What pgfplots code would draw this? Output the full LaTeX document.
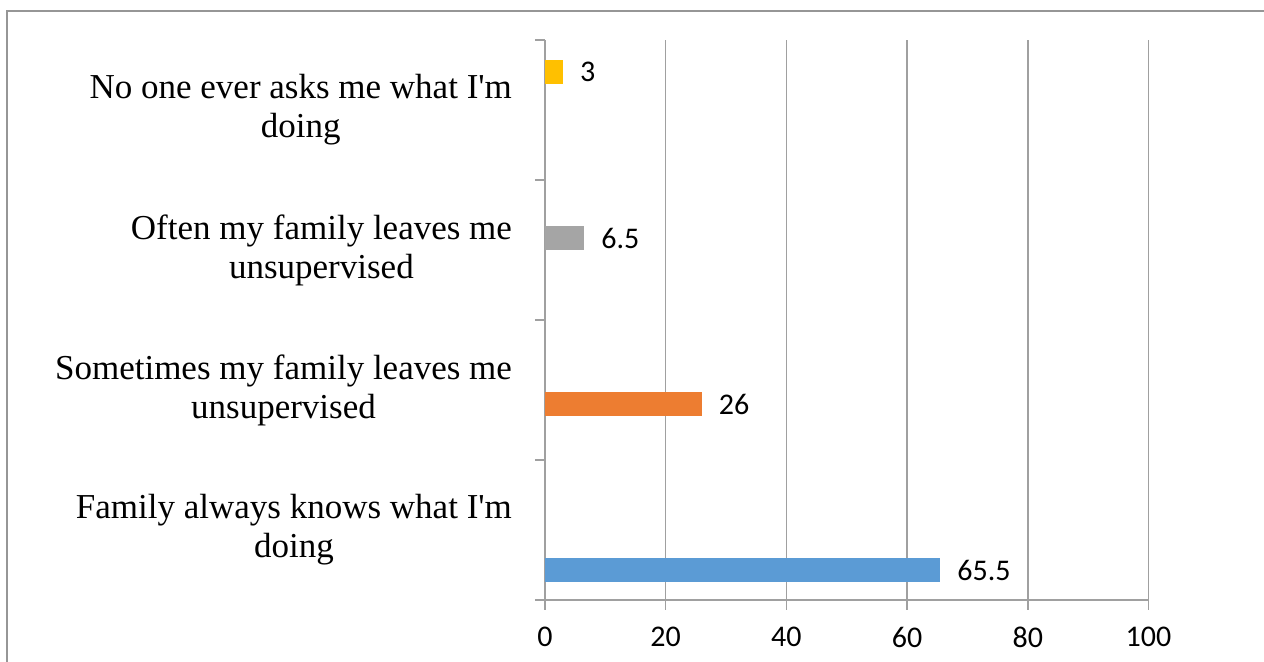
\documentclass[border=0pt]{standalone}
\usepackage{pgfplots}
\pgfplotsset{compat=1.18}
\usepackage{fontspec}
\setmainfont{Liberation Serif}[Ligatures=TeXOff]
\newfontfamily\calibri{Carlito}
\definecolor{sblue}{RGB}{91,155,213}
\definecolor{sorange}{RGB}{237,125,49}
\definecolor{sgray}{RGB}{165,165,165}
\definecolor{syellow}{RGB}{255,192,0}
\definecolor{framegray}{RGB}{150,150,150}
\definecolor{gridgray}{RGB}{160,160,160}
\begin{document}
\begin{tikzpicture}
\useasboundingbox (0,0) rectangle (632pt,331pt);
\draw[color=framegray, line width=0.8pt] (3.5pt,0) -- (3.5pt,325.5pt) -- (632pt,325.5pt);
\begin{axis}[
  at={(272.5pt,31pt)}, anchor=south west,
  width=301.75pt, height=280pt, scale only axis,
  xmin=0, xmax=100, ymin=-0.5, ymax=3.5,
  axis x line*=bottom, axis y line*=left,
  axis line style={color=gridgray, line width=0.7pt},
  tick align=outside, major tick length=5pt,
  tick style={color=gridgray, line width=0.7pt},
  xtick={0,20,40,60,80,100},
  xmajorgrids, grid style={color=gridgray, line width=0.7pt},
  ytick={-0.5,0.5,1.5,2.5,3.5}, yticklabels={},
  extra y ticks={0,1,2,3},
  extra y tick labels={{Family always knows what I'm\\doing},{Sometimes my family leaves me\\unsupervised},{Often my family leaves me\\unsupervised},{No one ever asks me what I'm\\doing}},
  extra y tick style={tick style={draw=none}, grid=none},
  yticklabel style={align=center, font=\fontsize{17.5}{19.5}\selectfont, anchor=east, xshift=-8pt},
  xticklabel style={font=\calibri\fontsize{15}{17}\selectfont, yshift=-5pt},
  /pgf/number format/assume math mode=true,
  xbar, bar width=12pt,
  nodes near coords,
  every node near coord/.append style={font=\calibri\fontsize{15}{17}\selectfont, anchor=west, xshift=5pt, color=black},
]
\addplot[xbar, bar width=12pt, bar shift=-20pt, fill=sblue, draw=none] coordinates {(65.5,0)};
\addplot[xbar, bar width=12pt, bar shift=-7pt, fill=sorange, draw=none] coordinates {(26,1)};
\addplot[xbar, bar width=12pt, bar shift=6pt, fill=sgray, draw=none] coordinates {(6.5,2)};
\addplot[xbar, bar width=12pt, bar shift=19pt, fill=syellow, draw=none] coordinates {(3,3)};
\end{axis}
\end{tikzpicture}
\end{document}
